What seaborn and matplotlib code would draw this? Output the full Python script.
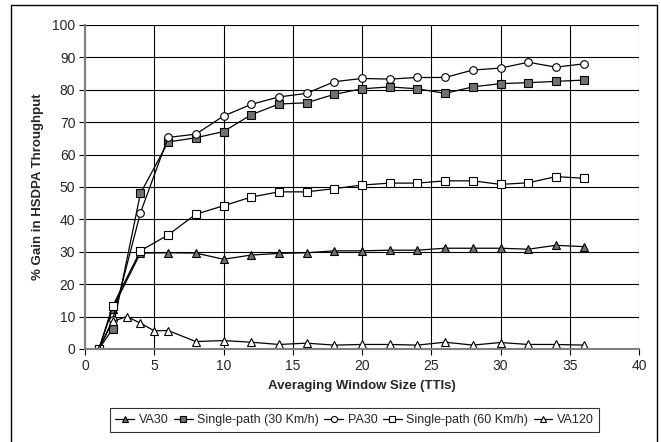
import matplotlib
matplotlib.use("Agg")
import matplotlib.pyplot as plt
import seaborn as sns
import pandas as pd

# --- data ---
x_main = [1, 2, 4, 6, 8, 10, 12, 14, 16, 18, 20, 22, 24, 26, 28, 30, 32, 34, 36]
x_va120 = [1, 2, 3, 4, 5, 6, 8, 10, 12, 14, 16, 18, 20, 22, 24, 26, 28, 30, 32, 34, 36]

va30 = [0, 12.5, 29.6, 29.7, 29.6, 27.7, 29.0, 29.5, 29.7, 30.3, 30.3, 30.5, 30.5,
        31.1, 31.1, 31.1, 30.8, 32.0, 31.6]
sp30 = [0, 6.2, 48.0, 63.9, 65.2, 67.1, 72.3, 75.6, 76.0, 78.6, 80.3, 80.9, 80.3,
        78.9, 80.9, 81.9, 82.2, 82.6, 83.0]
pa30 = [0, 9.0, 42.0, 65.3, 66.3, 71.9, 75.5, 77.8, 78.9, 82.5, 83.5, 83.3, 83.8,
        83.8, 86.1, 86.7, 88.5, 87.0, 88.0]
sp60 = [0, 13.3, 30.3, 35.2, 41.6, 44.2, 46.9, 48.5, 48.5, 49.5, 50.6, 51.2, 51.2,
        51.9, 51.9, 50.8, 51.3, 53.2, 52.7]
va120 = [0, 8.5, 10.0, 8.0, 5.6, 5.7, 2.3, 2.6, 2.1, 1.4, 1.8, 1.2, 1.4, 1.4, 1.2,
         2.1, 1.2, 2.0, 1.4, 1.4, 1.2]

series = ["VA30", "Single-path (30 Km/h)", "PA30", "Single-path (60 Km/h)", "VA120"]

df = pd.concat([
    pd.DataFrame({"x": x_main, "y": va30, "s": series[0]}),
    pd.DataFrame({"x": x_main, "y": sp30, "s": series[1]}),
    pd.DataFrame({"x": x_main, "y": pa30, "s": series[2]}),
    pd.DataFrame({"x": x_main, "y": sp60, "s": series[3]}),
    pd.DataFrame({"x": x_va120, "y": va120, "s": series[4]}),
])

sns.set_style("white")
plt.rcParams['font.family'] = ['Liberation Sans', 'DejaVu Sans']

fig = plt.figure(figsize=(6.61, 4.42), dpi=100)
ax = fig.add_axes([85 / 661, 1 - 349 / 442, 554 / 661, 324 / 442])

# frame around the whole figure
fig.patches.append(plt.Rectangle((11 / 661, -0.02), 646 / 661, 1 - 5 / 442 + 0.02,
                                 transform=fig.transFigure, fill=False,
                                 edgecolor="black", lw=1.0))

markers = {"VA30": "^", "Single-path (30 Km/h)": "s", "PA30": "o",
           "Single-path (60 Km/h)": "s", "VA120": "^"}
faces = {"VA30": "#707070", "Single-path (30 Km/h)": "#707070", "PA30": "white",
         "Single-path (60 Km/h)": "white", "VA120": "white"}

for name in series:
    sub = df[df["s"] == name]
    sns.lineplot(data=sub, x="x", y="y", ax=ax, color="black", lw=0.9,
                 marker=markers[name], markersize=5.5,
                 markerfacecolor=faces[name], markeredgecolor="black",
                 markeredgewidth=0.8, label=name)

ax.set_xlim(0, 40)
ax.set_ylim(0, 100)
ax.set_xticks(range(0, 41, 5))
ax.set_yticks(range(0, 101, 10))
ax.grid(True, color="black", lw=0.8)
ax.set_axisbelow(True)
for side in ["top", "right"]:
    ax.spines[side].set_visible(False)
ax.spines["left"].set_color("#808080")
ax.spines["left"].set_linewidth(1.5)
ax.spines["bottom"].set_color("#808080")
ax.spines["bottom"].set_linewidth(1.5)
ax.tick_params(direction="out", length=4, width=0.8, color="black",
               labelsize=10, bottom=True, left=True, pad=3)

ax.set_xlabel("Averaging Window Size (TTIs)", fontsize=9.5, fontweight="bold", labelpad=5)
ax.set_ylabel("% Gain in HSDPA Throughput", fontsize=9.5, fontweight="bold", labelpad=6)

leg = ax.legend(loc="center", bbox_to_anchor=(354.5 / 661, 1 - 420 / 442),
                bbox_transform=fig.transFigure, ncol=5, frameon=True,
                fancybox=False, edgecolor="black", fontsize=9,
                handlelength=1.5, handletextpad=0.35, columnspacing=0.45,
                borderpad=0.45, borderaxespad=0, markerscale=0.8)
leg.get_frame().set_linewidth(0.8)

fig.savefig("out.png", dpi=100)
